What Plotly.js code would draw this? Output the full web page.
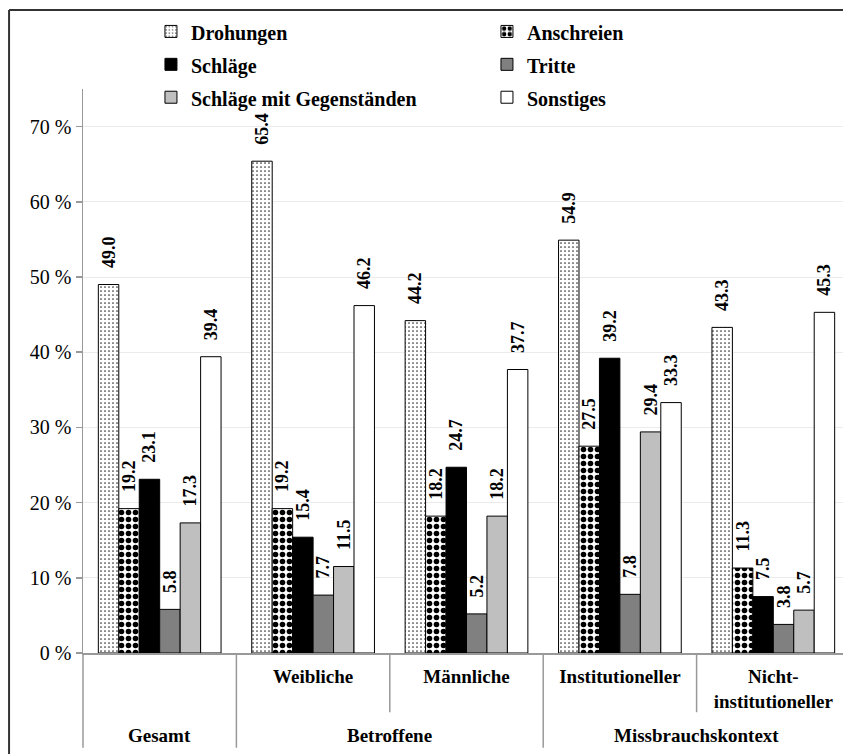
<!DOCTYPE html>
<html>
<head>
<meta charset="utf-8">
<script src="https://cdn.plot.ly/plotly-3.0.1.min.js"></script>
<style>
  html, body { margin: 0; padding: 0; overflow: hidden; background: #fff; }
  #chart { width: 860px; height: 754px; }
</style>
</head>
<body>
<div id="chart"></div>
<script>
// ---- data ----
const categories = ['Gesamt', 'Weibliche', 'Männliche', 'Institutioneller', 'Nicht-institutioneller'];
const tickLabels = ['', 'Weibliche', 'Männliche', 'Institutioneller', 'Nicht-<br>institutioneller'];
const groupLabels = ['Gesamt', 'Betroffene', 'Missbrauchskontext'];
const groupCenters = [0, 1.5, 3.5];
const yTickValues = [0, 10, 20, 30, 40, 50, 60, 70];
const yTickLabels = ['0 %', '10 %', '20 %', '30 %', '40 %', '50 %', '60 %', '70 %'];

const seriesNames = ['Drohungen', 'Anschreien', 'Schläge', 'Tritte', 'Schläge mit Gegenständen', 'Sonstiges'];
const drohungen   = [49.0, 65.4, 44.2, 54.9, 43.3];
const anschreien  = [19.2, 19.2, 18.2, 27.5, 11.3];
const schlaege    = [23.1, 15.4, 24.7, 39.2, 7.5];
const tritte      = [5.8, 7.7, 5.2, 7.8, 3.8];
const schlaegeMG  = [17.3, 11.5, 18.2, 29.4, 5.7];
const sonstiges   = [39.4, 46.2, 37.7, 33.3, 45.3];
const seriesValues = [drohungen, anschreien, schlaege, tritte, schlaegeMG, sonstiges];

// ---- styles ----
const serif = '"Liberation Serif", "Times New Roman", Times, serif';
const markers = [
  {color: '#ffffff', pattern: {shape: '.', fgcolor: '#333333', bgcolor: '#ffffff', size: 4, solidity: 0.15}},
  {color: '#ffffff', pattern: {shape: '.', fgcolor: '#000000', bgcolor: '#ffffff', size: 7, solidity: 0.5}},
  {color: '#000000'},
  {color: '#808080'},
  {color: '#bfbfbf'},
  {color: '#ffffff'}
];

const traces = seriesNames.map((name, i) => {
  const m = Object.assign({}, markers[i], {line: {color: '#000000', width: 1}});
  return {
    type: 'bar',
    name: '<span style="font-size:20px">' + name + '</span>',
    x: categories,
    y: seriesValues[i],
    marker: m,
    texttemplate: '\u00a0\u00a0\u00a0%{y:.1f}',
    textposition: 'outside',
    textangle: -90,
    constraintext: 'none',
    cliponaxis: false,
    textfont: {family: serif, size: 18, color: '#000000', weight: 'bold'},
    hoverinfo: 'skip'
  };
});

// divider lines under the x axis (category boundaries)
const dividerColor = '#999999';
const shapes = [
  {type: 'line', xref: 'paper', yref: 'paper', x0: 0, x1: 0, y0: 0, y1: -0.168, line: {color: dividerColor, width: 1.5}},
  {type: 'line', xref: 'x', yref: 'paper', x0: 0.5, x1: 0.5, y0: 0, y1: -0.168, line: {color: dividerColor, width: 1.5}},
  {type: 'line', xref: 'x', yref: 'paper', x0: 1.5, x1: 1.5, y0: 0, y1: -0.105, line: {color: dividerColor, width: 1.5}},
  {type: 'line', xref: 'x', yref: 'paper', x0: 2.5, x1: 2.5, y0: 0, y1: -0.168, line: {color: dividerColor, width: 1.5}},
  {type: 'line', xref: 'x', yref: 'paper', x0: 3.5, x1: 3.5, y0: 0, y1: -0.105, line: {color: dividerColor, width: 1.5}},
  // outer frame (left and top edges)
  {type: 'line', xref: 'paper', yref: 'paper', x0: -0.0964, x1: -0.0964, y0: 1.1401, y1: -0.25, line: {color: '#333333', width: 2}},
  {type: 'line', xref: 'paper', yref: 'paper', x0: -0.0964, x1: 1.2, y0: 1.1401, y1: 1.1401, line: {color: '#333333', width: 2}}
];

const annotations = groupLabels.map((t, i) => ({
  text: t, xref: 'x', yref: 'paper', x: groupCenters[i], y: -0.147,
  xanchor: 'center', yanchor: 'middle', showarrow: false,
  font: {family: serif, size: 19, color: '#000000', weight: 'bold'}
}));

const layout = {
  width: 860, height: 754,
  margin: {l: 83, r: 9.5, t: 89, b: 101, autoexpand: false},
  paper_bgcolor: '#ffffff', plot_bgcolor: '#ffffff',
  barmode: 'group', bargap: 0.2, bargroupgap: 0,
  showlegend: true,
  legend: {
    orientation: 'h', x: 0.0886, xanchor: 'left', y: 1.1401, yanchor: 'top',
    entrywidth: 291, entrywidthmode: 'pixels', traceorder: 'normal',
    font: {family: serif, size: 23, color: '#000000', weight: 'bold'},
    bgcolor: 'rgba(0,0,0,0)', borderwidth: 0
  },
  xaxis: {
    type: 'category', tickmode: 'array', tickvals: categories, ticktext: tickLabels,
    showgrid: false, zeroline: false, showline: true, linecolor: '#999999', linewidth: 1.5,
    ticks: '', ticklabelstandoff: 6,
    tickfont: {family: serif, size: 19, color: '#000000', weight: 'bold'},
    fixedrange: true
  },
  yaxis: {
    range: [0, 75], tickmode: 'array', tickvals: yTickValues, ticktext: yTickLabels,
    showgrid: true, gridcolor: '#ebebeb', gridwidth: 1,
    zeroline: false, showline: true, linecolor: '#999999', linewidth: 1.5,
    ticks: 'outside', ticklen: 6, tickcolor: '#999999', tickwidth: 1.5,
    tickfont: {family: serif, size: 20, color: '#000000'},
    fixedrange: true
  },
  shapes: shapes,
  annotations: annotations
};

Plotly.newPlot('chart', traces, layout, {displayModeBar: false, staticPlot: true});
</script>
</body>
</html>
